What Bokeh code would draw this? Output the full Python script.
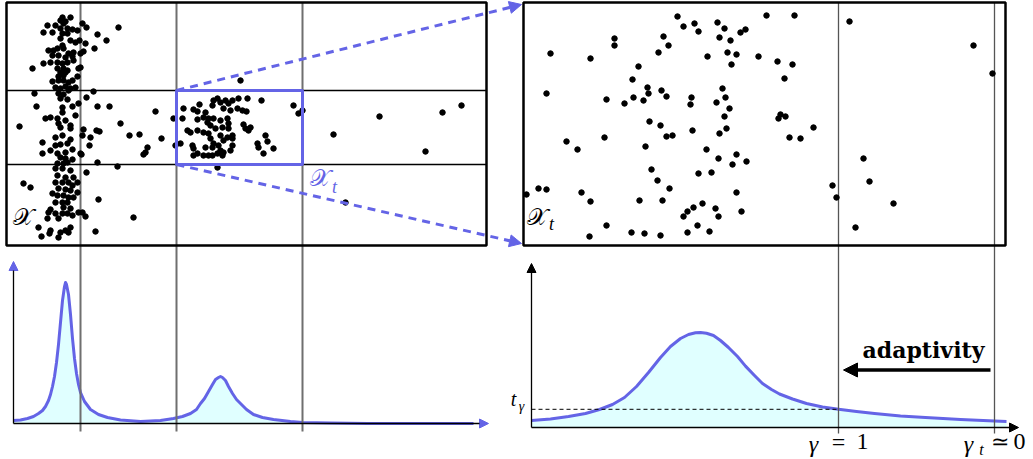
from bokeh.plotting import figure
from bokeh.models import Range1d, Arrow, NormalHead
from bokeh.embed import file_html
from bokeh.resources import INLINE
from bokeh.core.properties import value

# ---------------- data (in reference pixel units) -------------
# full data cloud X (outside the zoomed box)
cloud_xy = [
    (62,17),(70,17),(60,20),(65,21),(63,23),(55,25),(47,25),(52,32),(43,32),(60,28),
    (67,28),(72,29),(77,30),(82,23),(86,27),(97,34),(106,40),(118,27),(62,33),(67,33),
    (60,38),(70,40),(75,42),(79,40),(85,43),(62,45),(48,50),(53,50),(57,48),(63,48),
    (68,53),(73,52),(80,53),(83,51),(94,48),(52,55),(58,55),(65,57),(72,56),
    (43,63),(50,62),(57,62),(62,63),(67,62),(73,60),(32,68),(57,68),(63,68),(67,70),
    (80,67),(78,68),(60,72),(65,72),(77,76),(58,76),(63,75),
    (52,81),(58,80),(63,80),(68,82),(72,80),(65,86),(55,87),(60,88),(70,88),(75,87),
    (34,93),(58,93),(63,94),(68,90),(93,91),(60,98),(67,99),(86,97),(78,103),
    (36,106),(62,107),(72,106),(97,106),(109,106),(62,112),(45,118),(50,117),(57,118),
    (65,120),(75,115),(19,126),(58,123),(70,125),(70,128),(60,127),(83,129),(96,130),
    (99,131),(82,135),(120,123),(155,111),(129,135),(139,134),(161,138),
    (42,142),(55,137),(62,135),(70,139),(55,145),(60,144),(67,143),(42,153),(50,150),
    (57,153),(65,152),(72,149),(80,153),(89,145),(90,137),(60,157),(65,158),(57,163),
    (63,163),(67,162),(72,159),(81,154),(97,162),(117,166),(147,147),(145,152),(143,154),
    (55,168),(62,168),(70,170),(86,172),(57,175),(65,177),(73,177),(77,182),(55,182),
    (62,182),(68,182),(72,185),(23,183),(30,187),(58,188),(65,189),(70,190),(77,192),
    (52,193),(57,195),(63,195),(68,197),(73,197),(55,202),(62,202),(67,202),(98,199),
    (63,207),(70,208),(50,209),(55,213),(62,213),(67,213),(72,215),(78,212),(82,212),
    (85,216),(47,218),(58,218),(133,217),(38,227),(50,230),(60,232),(65,230),(70,227),
    (68,232),(41,236),(49,233),(58,237),(95,231),(48,212),
    (240,80),(333,134),(379,116),(425,151),(442,112),(461,105),(345,202),(217,167),
]
# points inside the zoomed box X_t
box_xy = [
    (183,108),(193,109),(199,104),(197,111),(212,105),(213,100),(217,98),(220,102),
    (225,100),(228,103),(232,100),(230,110),(223,108),(238,98),(247,98),(261,100),
    (237,108),(242,110),(246,111),(173,118),(182,118),(197,119),(203,117),(205,112),
    (208,118),(213,118),(220,120),(227,118),(228,123),(207,122),(210,125),(215,128),
    (222,127),(228,128),(243,124),(245,128),(250,127),(248,130),(187,130),(190,132),
    (197,130),(203,132),(208,133),(220,135),(227,137),(232,135),(210,138),(213,143),
    (223,140),(232,138),(175,145),(180,143),(192,145),(193,148),(205,147),(212,147),
    (218,145),(220,150),(223,152),(222,155),(217,153),(232,145),(230,150),(257,143),
    (258,147),(265,135),(267,141),(273,148),(263,153),(193,155),(197,153),(203,155),
    (208,155),(212,155),(293,105),(298,113),(302,110),
]
# magnified view of X_t
zoom_xy = [
    (677,16),(683,26),(694,23),(698,31),(717,22),(724,28),(719,37),(730,40),(740,32),
    (745,29),(766,15),(794,15),(849,21),(973,45),(992,73),(614,38),(614,45),(663,36),
    (668,45),(658,52),(550,53),(590,58),(638,66),(632,79),(647,87),(648,93),(661,90),
    (666,96),(633,97),(643,100),(624,103),(606,99),(546,93),(727,52),(736,54),(731,64),
    (707,56),(758,56),(777,61),(792,64),(784,78),(722,88),(725,97),(716,102),(729,108),
    (724,116),(726,128),(719,133),(691,97),(690,104),(692,130),(649,121),(660,125),
    (666,136),(672,135),(645,146),(566,141),(577,149),(604,137),(778,118),(780,114),
    (785,116),(813,127),(789,137),(800,138),(706,149),(718,158),(736,154),(732,164),
    (746,161),(698,173),(711,172),(651,169),(657,180),(669,188),(736,192),(832,185),
    (836,197),(863,158),(869,181),(893,203),(855,227),(526,194),(538,188),(546,189),
    (581,192),(590,201),(639,200),(662,200),(702,203),(693,207),(687,211),(683,216),
    (715,208),(718,216),(741,211),(697,225),(709,231),(687,232),(606,225),(589,236),
    (631,232),(644,233),(660,235),
]
# density of the full data (bottom left)
density_x = [13, 20, 27, 33, 38, 42, 45, 48, 50, 52, 54, 56, 58, 60, 62, 64, 65, 66, 68,
             70, 72, 74, 76, 78, 80, 84, 90, 98, 107, 120, 140, 160, 173, 182, 190, 196,
             200, 204, 208, 212, 215, 218, 220, 222, 225, 228, 232, 236, 240, 246, 253,
             262, 273, 290, 302, 330, 367, 420, 473]
density_y = [420, 419.5, 418, 416, 413, 410, 406, 400, 394, 386, 376, 362, 344, 322, 300,
             286, 282, 284, 294, 314, 338, 358, 373, 384, 392, 401, 409, 414, 417, 419.5,
             421, 420, 418, 416, 413, 409, 403, 398, 391, 384, 379, 377, 376, 377, 380,
             386, 393, 399, 403, 409, 414, 417, 419, 421, 422, 422.5, 423, 423, 423]
# density of X_t (bottom right)
local_x = [531, 550, 568, 585, 599, 612, 624, 636, 648, 660, 670, 680, 688, 695, 700, 706,
           713, 720, 728, 737, 745, 754, 762, 771, 779, 792, 806, 822, 838, 856, 874, 900,
           925, 960, 994, 1006]
local_y = [420, 418.5, 416, 413, 409, 404, 397, 386, 372, 357, 346, 338, 334, 332.3, 332,
           332.8, 335, 340, 347, 356, 365.6, 375, 383, 389, 393.5, 398.5, 403, 406.5, 408.8,
           411, 413, 415.5, 417, 419, 420.5, 421]
t_gamma = 408.8

label_X = "𝒳"
label_t = "t"
label_gamma = "γ"
label_eq = "="
label_one = "1"
label_simeq = "≃"
label_zero = "0"
label_adapt = "adaptivity"

BLUE = "#6464e6"
FILL = "#e0ffff"

# ---------------- figure ----------------
p = figure(width=1033, height=459, x_range=Range1d(0, 1033), y_range=Range1d(459, 0),
           output_backend="svg", toolbar_location=None, min_border=0,
           x_axis_location=None, y_axis_location=None)
p.xgrid.visible = False
p.ygrid.visible = False
p.outline_line_color = None
p.background_fill_color = "white"
p.border_fill_color = "white"

cx = [a for a, b in cloud_xy]; cy = [b for a, b in cloud_xy]
bx = [a for a, b in box_xy]; by = [b for a, b in box_xy]
zx = [a for a, b in zoom_xy]; zy = [b for a, b in zoom_xy]

# bottom densities
p.varea(x=density_x, y1=density_y, y2=[423] * len(density_x), fill_color=FILL)
p.varea(x=local_x, y1=local_y, y2=[427] * len(local_x), fill_color=FILL)

# axes of the bottom panels
p.add_layout(Arrow(end=NormalHead(size=9, fill_color=BLUE, line_color=BLUE),
                   x_start=13, y_start=423, x_end=13, y_end=261,
                   line_color="black", line_width=1.3))
p.add_layout(Arrow(end=NormalHead(size=9, fill_color=BLUE, line_color=BLUE),
                   x_start=13, y_start=423, x_end=488, y_end=423,
                   line_color="black", line_width=1.3))
p.add_layout(Arrow(end=NormalHead(size=9, fill_color="black", line_color="black"),
                   x_start=531, y_start=427, x_end=531, y_end=263,
                   line_color="black", line_width=1.3))
p.add_layout(Arrow(end=NormalHead(size=9, fill_color="black", line_color="black"),
                   x_start=531, y_start=427, x_end=1018, y_end=427,
                   line_color="black", line_width=1.3))

p.line(density_x, density_y, line_color=BLUE, line_width=3, line_join="round")
p.line(local_x, local_y, line_color=BLUE, line_width=3, line_join="round")

# t_gamma threshold
p.segment(x0=[531], y0=[t_gamma], x1=[838], y1=[t_gamma], line_color="black",
          line_width=1, line_dash="4 3")

# grid lines of the partition
p.segment(x0=[80, 176, 302], y0=[2, 2, 2], x1=[80, 176, 302], y1=[431, 431, 431],
          line_color="#6f6f6f", line_width=2)
p.segment(x0=[838, 994], y0=[2, 2], x1=[838, 994], y1=[433, 433],
          line_color="#555555", line_width=1.3)
p.segment(x0=[6, 6], y0=[90, 164], x1=[486, 486], y1=[90, 164],
          line_color="black", line_width=1.4)

# panel frames
p.quad(left=[6, 523], right=[486, 1005], top=[2, 2], bottom=[245, 245],
       fill_color=None, line_color="black", line_width=2.5)

# scatter
p.scatter(cx, cy, size=5.5, color="black")
p.scatter(bx, by, size=5.5, color="black")
p.scatter(zx, zy, size=5.5, color="black")

# zoom box and dashed arrows
p.quad(left=[176], right=[302], top=[90], bottom=[164], fill_color=None,
       line_color=BLUE, line_width=3)
p.add_layout(Arrow(end=NormalHead(size=12, fill_color=BLUE, line_color=BLUE),
                   x_start=176, y_start=90, x_end=521, y_end=4,
                   line_color=BLUE, line_width=3, line_dash="8 6"))
p.add_layout(Arrow(end=NormalHead(size=12, fill_color=BLUE, line_color=BLUE),
                   x_start=176, y_start=164, x_end=521, y_end=243,
                   line_color=BLUE, line_width=3, line_dash="8 6"))

# adaptivity arrow
p.add_layout(Arrow(end=NormalHead(size=14, fill_color="black", line_color="black"),
                   x_start=990, y_start=369.5, x_end=843, y_end=369.5,
                   line_color="black", line_width=3.5))

# texts
SERIF = value("DejaVu Serif")
MATH = value("Liberation Serif")


def label(x, y, s, size, font=MATH, style="normal", color="black", align="center"):
    p.text(x=[x], y=[y], text=[s], text_font=font, text_font_size=size,
           text_font_style=style, text_align=align, text_baseline="middle",
           text_color=color)


label(23, 216, label_X, "24px", font=SERIF)
label(320, 177, label_X, "24px", font=SERIF, color=BLUE)
label(334, 186, label_t, "18px", style="italic", color=BLUE)
label(537, 216, label_X, "24px", font=SERIF)
label(551, 223, label_t, "18px", style="italic")
label(513, 398, label_t, "20px", style="italic")
label(521, 406, label_gamma, "14px", style="italic")
# gamma = 1
label(813, 443, label_gamma, "24px", style="italic")
label(838, 441, label_eq, "24px")
label(862, 441, label_one, "24px")
# gamma_t ~= 0
label(968, 443, label_gamma, "24px", style="italic")
label(981, 449, label_t, "16px", style="italic")
label(999, 441, label_simeq, "22px")
label(1019, 441, label_zero, "24px")
label(923, 349, label_adapt, "22px", font=SERIF, style="bold")

open("out.html", "w").write(file_html(p, INLINE))
